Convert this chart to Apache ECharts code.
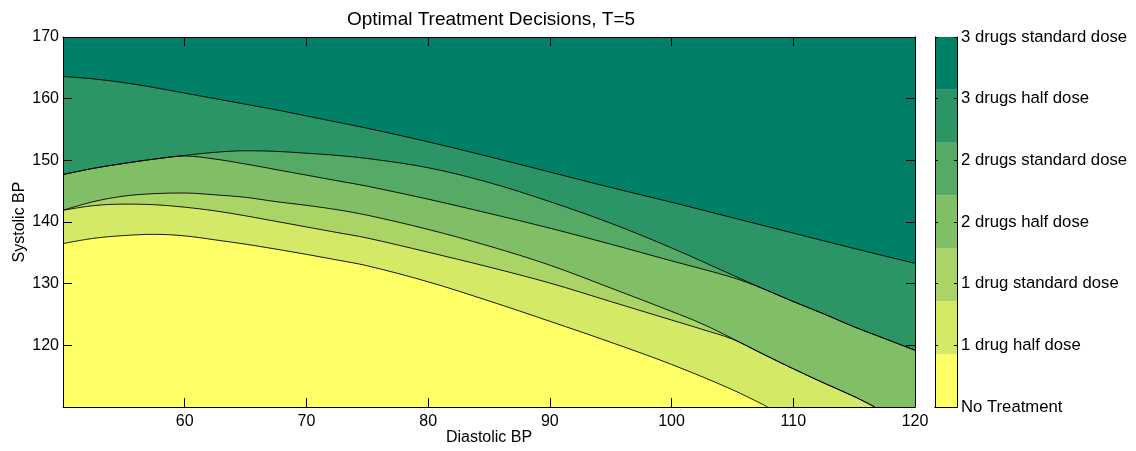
<!DOCTYPE html>
<html>
<head>
<meta charset="utf-8">
<script src="https://cdn.jsdelivr.net/npm/echarts@6/dist/echarts.min.js"></script>
<style>
  html, body { margin: 0; padding: 0; background: #fff; }
  #chart { width: 1136px; height: 451px; }
</style>
</head>
<body>
<div id="chart"></div>
<script>
// ---- data ----
const titleText = 'Optimal Treatment Decisions, T=5';
const xName = 'Diastolic BP';
const yName = 'Systolic BP';
const xRange = [50, 120];
const yRange = [110, 170];
const doseLabels = ['No Treatment', '1 drug half dose', '1 drug standard dose',
  '2 drugs half dose', '2 drugs standard dose', '3 drugs half dose', '3 drugs standard dose'];
const doseColors = ['#FFFF66', '#D4EA66', '#AAD466', '#80BF66', '#55AA66', '#2B9566', '#008066'];

// contour boundaries [diastolic, systolic]
// edge k separates decision k-1 (below) from decision k (above)
const edge1 = [[50,136.5],[52.5,137.35],[55,137.8],[57.5,138.0],[60,137.75],[62.5,137.1],[65,136.4],[67.5,135.6],[70,134.75],[72.5,133.85],[75,132.9],[80,130.3],[85,127.2],[90,123.9],[95,120.5],[100,116.9],[105,112.8],[107.9,110]];
const edge2 = [[50,141.9],[52.5,142.65],[55,142.9],[57.5,142.8],[60,142.4],[62.5,141.8],[65,141.0],[67.5,140.1],[70,139.2],[72.5,138.3],[75,137.4],[80,135.1],[85,132.7],[90,130.1],[95,127.1],[100,124.1],[102.5,122.6],[105,121.0],[107.5,118.6],[110,116.2],[112.5,113.9],[115,111.7],[116.7,110]];
const edge3 = [[50,141.9],[52.5,143.3],[55,144.2],[57.5,144.6],[60,144.7],[62.5,144.4],[65,144.0],[67.5,143.3],[70,142.7],[72.5,142.0],[75,141.1],[80,138.8],[85,136.1],[90,133.0],[95,129.3],[100,125.5],[102.5,123.5],[105,121.1],[107.5,118.6],[110,116.2],[112.5,113.9],[115,111.7],[116.7,110]];
const edge4 = [[50,147.7],[52.5,148.7],[55,149.5],[57.5,150.2],[60,150.7],[62.5,150.2],[65,149.4],[67.5,148.5],[70,147.6],[72.5,146.7],[75,145.8],[80,143.7],[85,141.4],[90,139.0],[95,136.4],[100,133.7],[105,131.0],[107.5,129.2],[110,127.1],[112.5,125.1],[115,123.0],[117.5,121.1],[120,119.2]];
const edge5 = [[50,147.7],[52.5,148.7],[55,149.5],[57.5,150.2],[60,150.8],[62.5,151.3],[65,151.55],[67.5,151.45],[70,151.15],[72.5,150.8],[75,150.3],[80,148.8],[85,146.4],[90,143.3],[95,139.8],[100,135.8],[105,131.4],[107.5,129.2],[110,127.1],[112.5,125.1],[115,123.0],[117.5,121.1],[120,119.2]];
const edge6 = [[50,163.6],[52.5,163.2],[55,162.6],[57.5,161.8],[60,160.9],[62.5,160.0],[65,159.1],[67.5,158.2],[70,157.2],[72.5,156.2],[75,155.2],[80,153.0],[85,150.6],[90,148.1],[95,145.6],[100,143.2],[105,140.7],[110,138.2],[115,135.7],[120,133.3]];
const edges = [edge1, edge2, edge3, edge4, edge5, edge6];

// ---- chart ----
const FONT = '"Liberation Sans", Arial, sans-serif';
const chart = echarts.init(document.getElementById('chart'), null, { renderer: 'canvas' });

const series = [];
// paint from the top band downwards: the area under edge k gets colour k-1
for (let k = edges.length - 1; k >= 0; k--) {
  series.push({
    type: 'line', xAxisIndex: 0, yAxisIndex: 0,
    data: edges[k], smooth: 0.35,
    symbol: 'none', clip: true,
    lineStyle: { color: '#000', width: 0.9 },
    areaStyle: { color: doseColors[k], opacity: 1, origin: 'start' },
    z: 2
  });
}
// colourbar
doseColors.forEach((c, i) => {
  series.push({
    type: 'bar', xAxisIndex: 2, yAxisIndex: 2, stack: 'cbar',
    data: [1], barWidth: '100%', barCategoryGap: '0%',
    itemStyle: { color: c }, z: 2, silent: true
  });
});

const tickStyle = { color: '#000', width: 1 };
const option = {
  animation: false,
  title: {
    text: titleText, left: 486, top: 5, textAlign: 'center',
    textStyle: { fontFamily: FONT, fontSize: 19, fontWeight: 'normal', color: '#000' }
  },
  grid: [
    { left: 63, top: 37, width: 852, height: 370, show: true, backgroundColor: doseColors[6], borderWidth: 0,
      containLabel: false, outerBoundsMode: 'none' },
    { left: 935, top: 37, width: 22, height: 370, show: false, containLabel: false, outerBoundsMode: 'none' }
  ],
  xAxis: [
    { gridIndex: 0, type: 'value', min: xRange[0], max: xRange[1], interval: 10, position: 'bottom', z: 10,
      axisLine: { lineStyle: tickStyle }, axisTick: { inside: true, length: 9, lineStyle: tickStyle },
      axisLabel: { showMinLabel: false, fontFamily: FONT, fontSize: 16, color: '#000', margin: 7 },
      splitLine: { show: false },
      name: xName, nameLocation: 'middle', nameGap: 23, nameMoveOverlap: false,
      nameTextStyle: { fontFamily: FONT, fontSize: 16, color: '#000' } },
    { gridIndex: 0, type: 'value', min: xRange[0], max: xRange[1], interval: 10, position: 'top', z: 10,
      axisLine: { lineStyle: tickStyle }, axisTick: { inside: true, length: 9, lineStyle: tickStyle },
      axisLabel: { show: false }, splitLine: { show: false } },
    { gridIndex: 1, type: 'category', data: ['c'], position: 'bottom', z: 10,
      axisLine: { lineStyle: tickStyle }, axisTick: { show: false }, axisLabel: { show: false } },
    { gridIndex: 1, type: 'category', data: ['c'], position: 'top', z: 10,
      axisLine: { lineStyle: tickStyle }, axisTick: { show: false }, axisLabel: { show: false } }
  ],
  yAxis: [
    { gridIndex: 0, type: 'value', min: yRange[0], max: yRange[1], interval: 10, position: 'left', z: 10,
      axisLine: { show: true, lineStyle: tickStyle }, axisTick: { show: true, inside: true, length: 9, lineStyle: tickStyle },
      axisLabel: { showMinLabel: false, fontFamily: FONT, fontSize: 16, color: '#000', margin: 4 },
      splitLine: { show: false },
      name: yName, nameLocation: 'middle', nameGap: 35, nameRotate: 90, nameMoveOverlap: false,
      nameTextStyle: { fontFamily: FONT, fontSize: 16, color: '#000' } },
    { gridIndex: 0, type: 'value', min: yRange[0], max: yRange[1], interval: 10, position: 'right', z: 10,
      axisLine: { show: true, lineStyle: tickStyle }, axisTick: { show: true, inside: true, length: 9, lineStyle: tickStyle },
      axisLabel: { show: false }, splitLine: { show: false } },
    { gridIndex: 1, type: 'value', min: 0, max: doseColors.length, show: false },
    { gridIndex: 1, type: 'value', min: 0, max: doseLabels.length - 1, interval: 1, position: 'right', z: 10,
      axisLine: { show: true, lineStyle: tickStyle }, axisTick: { show: true, inside: true, length: 3, lineStyle: tickStyle },
      axisLabel: { fontFamily: FONT, fontSize: 16.7, color: '#000', margin: 4, formatter: v => doseLabels[v] },
      splitLine: { show: false } },
    { gridIndex: 1, type: 'value', min: 0, max: doseLabels.length - 1, interval: 1, position: 'left', z: 10,
      axisLine: { show: true, lineStyle: tickStyle }, axisTick: { show: true, inside: true, length: 3, lineStyle: tickStyle },
      axisLabel: { show: false }, splitLine: { show: false } }
  ],
  series: series
};
chart.setOption(option);
</script>
</body>
</html>
